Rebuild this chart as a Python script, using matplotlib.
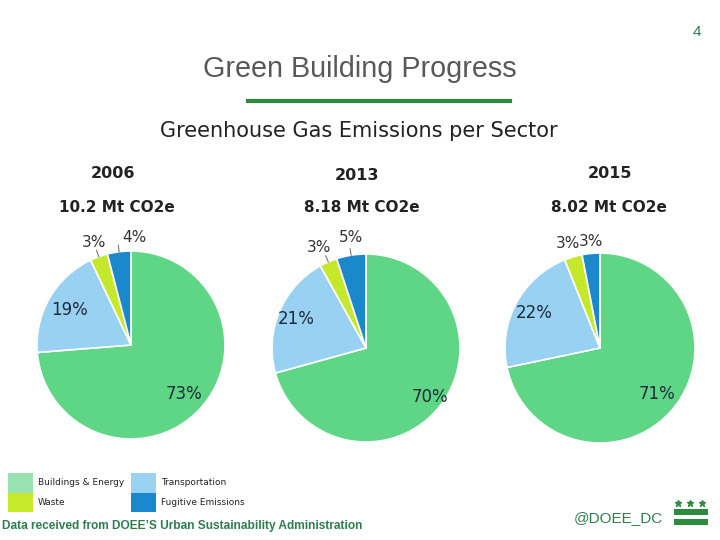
import numpy as np
import matplotlib
matplotlib.use("Agg")
import matplotlib.pyplot as plt
from matplotlib.patches import Rectangle

# data
sectors = ["Buildings & Energy", "Transportation", "Waste", "Fugitive Emissions"]
years = ["2006", "2013", "2015"]
totals = ["10.2 Mt CO2e", "8.18 Mt CO2e", "8.02 Mt CO2e"]
shares_2006 = [73, 19, 3, 4]
shares_2013 = [70, 21, 3, 5]
shares_2015 = [71, 22, 3, 3]
all_shares = [shares_2006, shares_2013, shares_2015]

pie_colors = ["#5fd685", "#98d1f1", "#c5e82b", "#1b88cc"]
legend_colors = ["#98e2b2", "#9ad3f2", "#c6ea2a", "#1a88cc"]
green_text = "#2e7d4f"

W, H = 720, 540


def fx(x):
    return x / W


def fy(y):
    return 1 - y / H


fig = plt.figure(figsize=(7.2, 5.4), dpi=100)
fig.patch.set_facecolor("white")

# header
fig.text(fx(697), fy(32), "4", color=green_text, fontsize=11,
         ha="center", va="center", family="Liberation Sans")
fig.text(fx(360), fy(69), "Green Building Progress", color="#595959",
         fontsize=20.7, ha="center", va="center", family="Liberation Sans")
fig.add_artist(plt.Line2D([fx(248), fx(510)], [fy(101), fy(101)],
                          color="#2e8b3e", linewidth=3))
fig.text(fx(359), fy(131), "Greenhouse Gas Emissions per Sector", color="#222222",
         fontsize=15, ha="center", va="center")

# pie layout: centre x, centre y, radius (pixels)
pie_geom = [(131, 345, 94), (366, 348, 94), (600, 348, 95)]
year_pos = [(113, 174), (357, 175), (610, 174)]
total_pos = [(117, 208), (362, 207), (609, 208)]
# label distance (in radii) per wedge
label_dist = [
    [0.77, 0.75, 1.16, 1.14],
    [0.86, 0.80, 1.18, 1.19],
    [0.77, 0.79, 1.15, 1.13],
]
# small angular nudges for the outside labels (degrees)
label_nudge = [
    [0, 0, 0, -9],
    [0, 0, 1.5, -1.5],
    [0, 0, 0.8, -0.7],
]
leaders = [
    [False, False, True, True],
    [False, False, True, True],
    [False, False, False, False],
]

for i, shares in enumerate(all_shares):
    cx, cy, r = pie_geom[i]
    ax = fig.add_axes([fx(cx - r), fy(cy + r), 2 * r / W, 2 * r / H])
    wedges, _ = ax.pie(shares, colors=pie_colors, startangle=90, counterclock=False,
                       radius=1, wedgeprops=dict(edgecolor="white", linewidth=1.2))
    ax.set_xlim(-1, 1)
    ax.set_ylim(-1, 1)
    ax.set_aspect("equal")
    ax.axis("off")
    for j, w in enumerate(wedges):
        mid = np.deg2rad((w.theta1 + w.theta2) / 2)
        ang = mid + np.deg2rad(label_nudge[i][j])
        d = label_dist[i][j]
        inside = d < 1
        ax.text(d * np.cos(ang), d * np.sin(ang), f"{shares[j]}%",
                ha="center", va="center", fontsize=12 if inside else 11,
                color="#1c2a3a" if inside else "#333333", clip_on=False)
        if leaders[i][j]:
            ax.plot([1.0 * np.cos(mid), 1.07 * np.cos(mid)],
                    [1.0 * np.sin(mid), 1.07 * np.sin(mid)],
                    color="#777777", linewidth=0.8, clip_on=False)

    fig.text(fx(year_pos[i][0]), fy(year_pos[i][1]), years[i], fontsize=11.5,
             fontweight="bold", color="#222222", ha="center", va="center")
    fig.text(fx(total_pos[i][0]), fy(total_pos[i][1]), totals[i], fontsize=11,
             fontweight="bold", color="#222222", ha="center", va="center")

# legend
sw_w, sw_h = 25, 19.5
legend_cells = [(8, 473, 0), (131, 473, 1), (8, 492.5, 2), (131, 492.5, 3)]
for x0, y0, k in legend_cells:
    fig.add_artist(Rectangle((fx(x0), fy(y0 + sw_h)), sw_w / W, sw_h / H,
                             facecolor=legend_colors[k], edgecolor="none",
                             transform=fig.transFigure))
    fig.text(fx(x0 + 30), fy(y0 + sw_h / 2), sectors[k],
             fontsize=6.5, color="#222222", ha="left", va="center")

# footer
fig.text(fx(2), fy(526), "Data received from DOEE\u2019S Urban Sustainability Administration",
         color=green_text, fontsize=8.6, fontweight="bold", ha="left", va="center",
         family="Liberation Sans")
fig.text(fx(618), fy(518), "@DOEE_DC", color=green_text, fontsize=11,
         ha="center", va="center", family="Liberation Sans")

# DC flag
for yb in (509, 519):
    fig.add_artist(Rectangle((fx(674), fy(yb + 6)), 34 / W, 6 / H,
                             facecolor="#2e8b3e", edgecolor="none",
                             transform=fig.transFigure))
for xs in (678, 690, 702):
    fig.add_artist(plt.Line2D([fx(xs)], [fy(503)], marker="*", markersize=5,
                              color="#2e8b3e", linestyle="none"))

fig.savefig("out.png", dpi=100, facecolor="white")
